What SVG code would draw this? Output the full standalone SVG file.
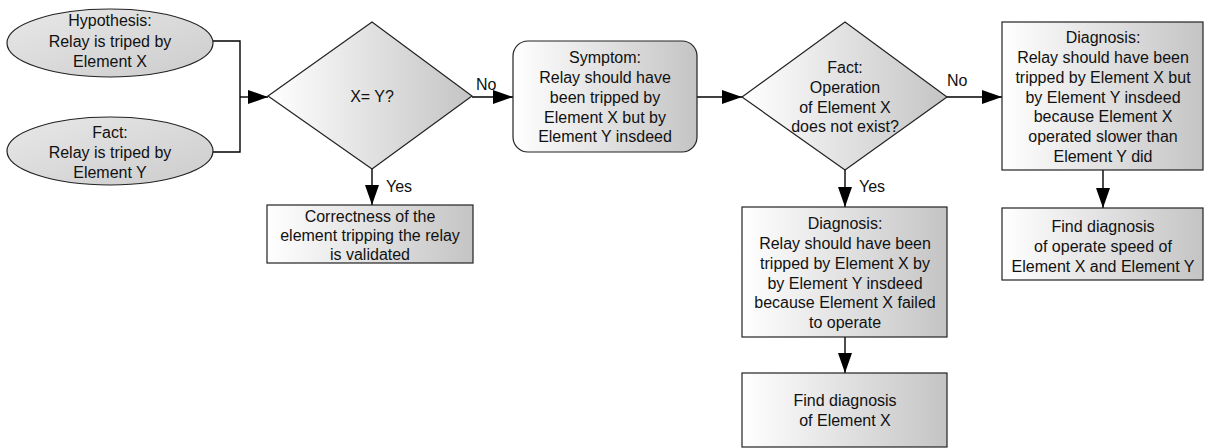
<svg xmlns="http://www.w3.org/2000/svg" width="1205" height="448" viewBox="0 0 1205 448">
  <defs>
    <linearGradient id="shade" x1="0" y1="0" x2="1" y2="0">
      <stop offset="0" stop-color="#ffffff"/>
      <stop offset="1" stop-color="#c4c4c4"/>
    </linearGradient>
    <linearGradient id="shadeOval" x1="0" y1="0" x2="1" y2="1">
      <stop offset="0" stop-color="#e8e8e8"/>
      <stop offset="1" stop-color="#cccccc"/>
    </linearGradient>
    <marker id="arrow" markerUnits="userSpaceOnUse" markerWidth="20" markerHeight="14" refX="20" refY="7" orient="auto">
      <path d="M0,0 L20,7 L0,14 Z" fill="#000"/>
    </marker>
    <style>
      .shape { fill: url(#shade); stroke: #222; stroke-width: 1.2; }
      .oval { fill: url(#shadeOval); stroke: #222; stroke-width: 1.2; }
      .link { fill: none; stroke: #000; stroke-width: 1.4; }
      .arr { marker-end: url(#arrow); }
      text { font-family: "Liberation Sans", Arial, sans-serif; font-size: 16px; fill: #111; text-anchor: middle; }
      .lbl { text-anchor: start; }
    </style>
  </defs>

  <!-- connectors -->
  <g id="connectors">
    <path class="link" d="M213,41 H240 V152 H213"/>
    <path class="link arr" d="M240,97 H268"/>
    <path class="link arr" d="M472,97 H513"/>
    <path class="link arr" d="M697,97 H742"/>
    <path class="link arr" d="M947,97 H1002"/>
    <path class="link arr" d="M372,169 V205"/>
    <path class="link arr" d="M845,170 V207"/>
    <path class="link arr" d="M845,337 V373"/>
    <path class="link arr" d="M1103,170 V208"/>
    <text class="lbl" x="476" y="90">No</text>
    <text class="lbl" x="947" y="86">No</text>
    <text class="lbl" x="386" y="192">Yes</text>
    <text class="lbl" x="859" y="192">Yes</text>
  </g>

  <!-- hypothesis -->
  <g id="hypothesis">
    <ellipse class="oval" cx="110" cy="43" rx="103" ry="34"/>
    <text x="110" y="26">Hypothesis:</text>
    <text x="110" y="47">Relay is triped by</text>
    <text x="110" y="67">Element X</text>
  </g>

  <!-- observed fact -->
  <g id="fact">
    <ellipse class="oval" cx="110" cy="151" rx="103" ry="34"/>
    <text x="110" y="138">Fact:</text>
    <text x="110" y="158">Relay is triped by</text>
    <text x="110" y="178">Element Y</text>
  </g>

  <!-- decision X = Y -->
  <g id="compare">
    <polygon class="shape" points="268,96 372,22 472,96 372,169"/>
    <text x="372" y="102">X= Y?</text>
  </g>

  <!-- validated -->
  <g id="validated">
    <rect class="shape" x="267" y="205" width="206" height="58"/>
    <text x="370" y="222">Correctness of the</text>
    <text x="370" y="241">element tripping the relay</text>
    <text x="370" y="260">is validated</text>
  </g>

  <!-- symptom -->
  <g id="symptom">
    <rect class="shape" x="513" y="41" width="184" height="111" rx="15" ry="15"/>
    <text x="605" y="63">Symptom:</text>
    <text x="605" y="83">Relay should have</text>
    <text x="605" y="103">been tripped by</text>
    <text x="605" y="123">Element X but by</text>
    <text x="605" y="142">Element Y insdeed</text>
  </g>

  <!-- decision on operation of element X -->
  <g id="operation">
    <polygon class="shape" points="742,97 845,22 947,97 845,170"/>
    <text x="845" y="73">Fact:</text>
    <text x="845" y="93">Operation</text>
    <text x="845" y="113">of Element X</text>
    <text x="845" y="132">does not exist?</text>
  </g>

  <!-- diagnosis: slower operation -->
  <g id="diag-slow">
    <rect class="shape" x="1002" y="22" width="201" height="148"/>
    <text x="1103" y="43">Diagnosis:</text>
    <text x="1103" y="63">Relay should have been</text>
    <text x="1103" y="83">tripped by Element X but</text>
    <text x="1103" y="103">by Element Y insdeed</text>
    <text x="1103" y="122">because Element X</text>
    <text x="1103" y="142">operated slower than</text>
    <text x="1103" y="162">Element Y did</text>
  </g>

  <!-- follow-up: operate speed -->
  <g id="find-speed">
    <rect class="shape" x="1002" y="208" width="201" height="72"/>
    <text x="1103" y="232">Find diagnosis</text>
    <text x="1103" y="252">of operate speed of</text>
    <text x="1103" y="272">Element X and Element Y</text>
  </g>

  <!-- diagnosis: failed to operate -->
  <g id="diag-fail">
    <rect class="shape" x="742" y="207" width="205" height="130"/>
    <text x="845" y="229">Diagnosis:</text>
    <text x="845" y="249">Relay should have been</text>
    <text x="845" y="269">tripped by Element X by</text>
    <text x="845" y="289">by Element Y insdeed</text>
    <text x="845" y="308">because Element X failed</text>
    <text x="845" y="328">to operate</text>
  </g>

  <!-- follow-up: element X -->
  <g id="find-x">
    <rect class="shape" x="742" y="373" width="205" height="74"/>
    <text x="845" y="406">Find diagnosis</text>
    <text x="845" y="426">of Element X</text>
  </g>
</svg>
